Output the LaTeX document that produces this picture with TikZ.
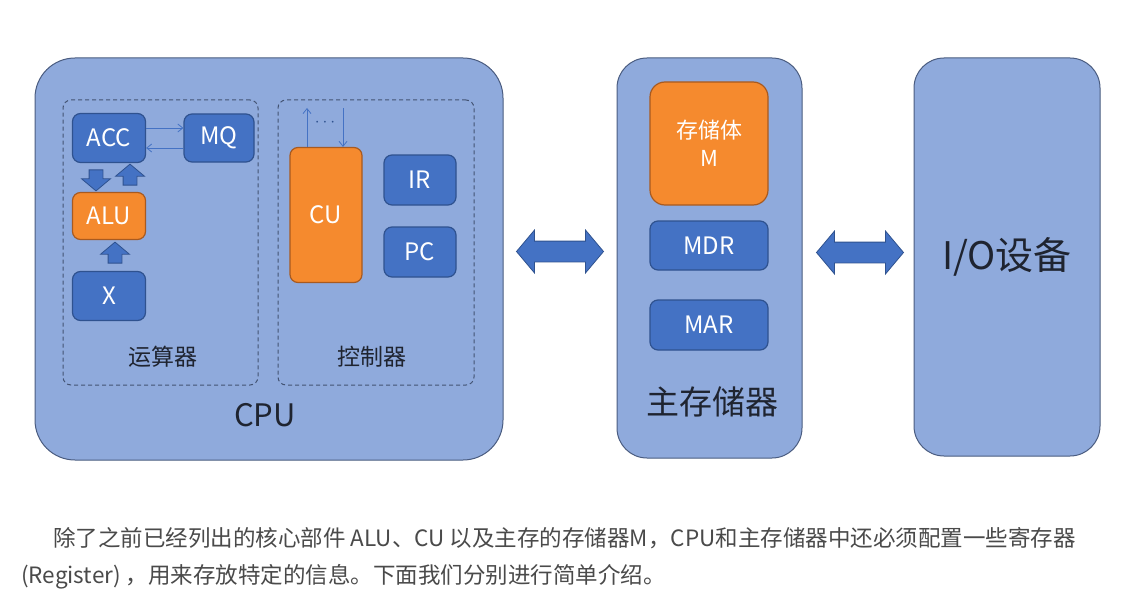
\documentclass[tikz,border=0pt]{standalone}
\usepackage{fontspec}
\setmainfont{Noto Sans CJK SC}
\usetikzlibrary{calc}
\usetikzlibrary{shapes.arrows}
\usetikzlibrary{arrows.meta}
\definecolor{panelfill}{HTML}{8FAADC}
\definecolor{paneldraw}{HTML}{4A5C80}
\definecolor{regfill}{HTML}{4472C4}
\definecolor{regdraw}{HTML}{2F528F}
\definecolor{corefill}{HTML}{F58A2E}
\definecolor{coredraw}{HTML}{A85A20}
\definecolor{labeltext}{HTML}{1F2430}
\definecolor{notetext}{HTML}{4A4A4A}
\newcommand{\fsize}[1]{\fontsize{#1}{#1}\selectfont}

\begin{document}
\begin{tikzpicture}[x=1pt, y=-1pt]
            \tikzstyle{panel} = [draw=paneldraw, line width=1pt, fill=panelfill, rounded corners=30]
            \tikzstyle{group} = [draw=paneldraw!90!black, dash pattern=on 4pt off 3pt, line width=1pt, rounded corners=8]
            \tikzstyle{reg} = [draw=regdraw, line width=1.2pt, fill=regfill, rounded corners=8, text=white, font=\fsize{24}]
            \tikzstyle{core} = [reg, draw=coredraw, fill=corefill]
            \tikzstyle{fat} = [single arrow, fill=regfill, draw=regdraw, line width=0.8pt, inner sep=0pt, inner ysep=6.5pt, minimum width=0pt, minimum height=21, single arrow head extend=7.5pt, single arrow tip angle=100]
            \tikzstyle{wide} = [double arrow, fill=regfill, draw=regdraw, line width=0.8pt, inner sep=0pt, inner ysep=10pt, minimum width=0pt, minimum height=87, double arrow head extend=11pt, double arrow tip angle=100]
            \tikzstyle{link} = [draw=regfill, line width=0.8pt, -{Straight Barb[length=5pt, width=8pt]}]
            \tikzstyle{caption} = [font=\fsize{23}, text=labeltext]

            \useasboundingbox (0, 0) rectangle (1132, 599);
            \fill[white] (0, 0) rectangle (1132, 599);

            \node[panel, rounded corners=40, minimum width=468, minimum height=402] (cpu) at (269, 259) {};
            \node[panel, minimum width=185, minimum height=400] (mem) at (709.5, 258) {};
            \node[panel, minimum width=186, minimum height=398, caption, font=\fsize{38}] (io) at (1007, 257) {I/O设备};

            \node[group, minimum width=195, minimum height=285] (alu group) at (160.5, 242.5) {};
            \node[group, minimum width=196, minimum height=285] (cu group) at (376, 242.5) {};

            \node[reg, minimum width=73, minimum height=49] (acc) at (109, 138) {ACC};
            \node[reg, minimum width=70, minimum height=48] (mq) at (219, 138) {MQ};
            \node[core, minimum width=73, minimum height=47] (alu) at (109, 216) {ALU};
            \node[reg, minimum width=73, minimum height=49] (xreg) at (109, 296) {X};
            \draw[link] ([yshift=10pt]acc.east) -- ([yshift=10pt]mq.west);
            \draw[link] ([yshift=-10pt]mq.west) -- ([yshift=-10pt]acc.east);
            \node[fat, rotate=-90] (acc to alu) at ($(acc.south)!0.5!(alu.north) + (-13, 0)$) {};
            \node[fat, rotate=90] (alu to acc) at ($(acc.south)!0.5!(alu.north) + (21, 0)$) {};
            \node[fat, rotate=90] (x to alu) at ($(alu.south)!0.5!(xreg.north) + (6, 0)$) {};
            \node[caption] (alu label) at (163, 357) {运算器};

            \node[core, minimum width=72, minimum height=135] (cu) at (326, 215) {CU};
            \node[reg, minimum width=72, minimum height=50] (ir) at (420, 180) {IR};
            \node[reg, minimum width=72, minimum height=50] (pc) at (420, 252) {PC};
            \coordinate (cu out) at (307, 108);
            \coordinate (cu in) at (343, 108);
            \draw[link] (cu.north -| cu out) -- (cu out);
            \draw[link] (cu in) -- (cu.north -| cu in);
            \node[text=regdraw, font=\fsize{18}] (cu dots) at (325, 123) {$\cdots$};
            \node[caption] (cu label) at (372, 357) {控制器};

            \node[caption, font=\fsize{31}] (cpu label) at (265, 415) {CPU};

            \node[core, rounded corners=15, minimum width=118, minimum height=123, align=center, font=\fontsize{22}{28}\selectfont] (store) at (709, 143.5) {存储体\\M};
            \node[reg, minimum width=118, minimum height=49] (mdr) at (709, 245.5) {MDR};
            \node[reg, minimum width=118, minimum height=50] (mar) at (709, 325) {MAR};
            \node[caption, font=\fsize{33}] (mem label) at (712, 402) {主存储器};

            \node[wide] (cpu mem) at ($(cpu.east)!0.5!(mem.west) + (0, -7)$) {};
            \node[wide] (mem io) at ($(mem.east)!0.5!(io.west) + (2, -5)$) {};

            \node[anchor=west, inner sep=0pt, text=notetext, font=\fsize{22.5}] (note first) at (53, 538) {除了之前已经列出的核心部件 ALU、CU 以及主存的存储器M，CPU和主存储器中还必须配置一些寄存器};
            \node[anchor=west, inner sep=0pt, text=notetext, font=\fsize{22.5}] (note second) at (21, 577) {(Register) ，用来存放特定的信息。下面我们分别进行简单介绍。};
\end{tikzpicture}
\end{document}
